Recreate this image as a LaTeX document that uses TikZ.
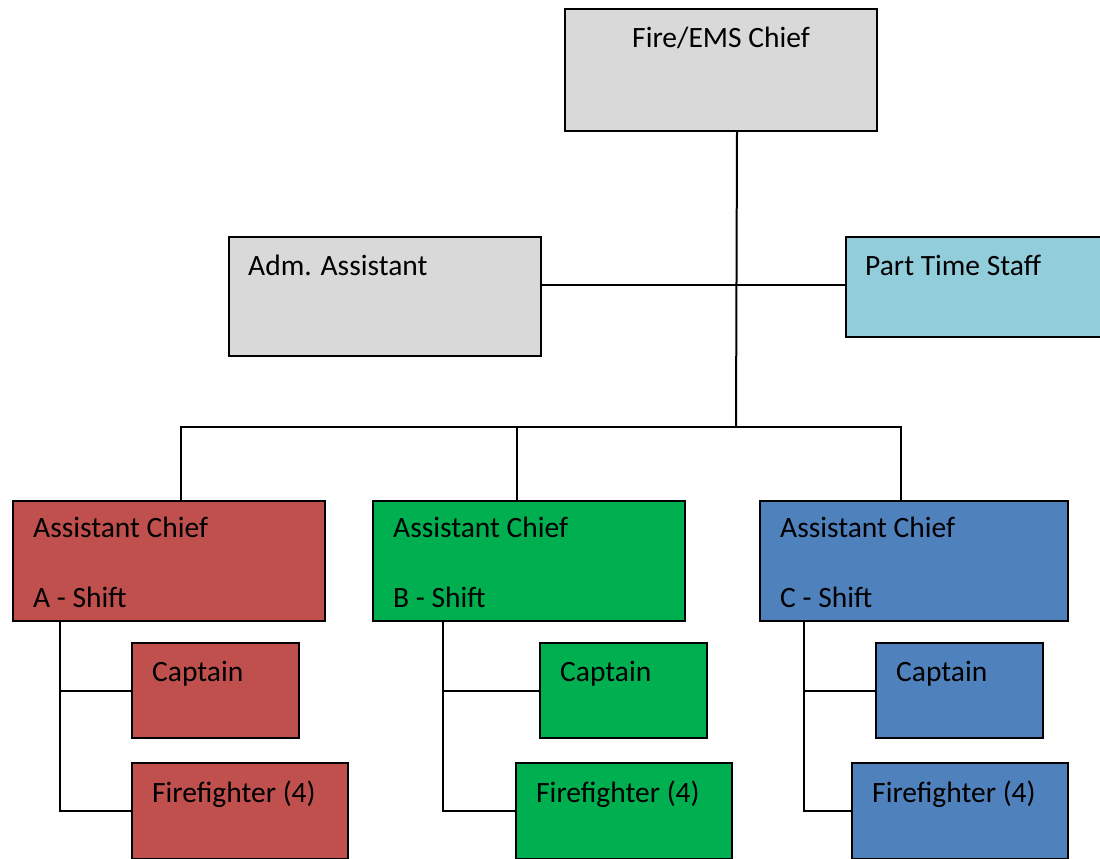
\documentclass[tikz,border=0pt]{standalone}
\usepackage{fontspec}
\setmainfont{Carlito}
\usetikzlibrary{positioning,calc}
\definecolor{chiefgray}{HTML}{D9D9D9}
\definecolor{partblue}{HTML}{92CDDC}
\definecolor{shiftred}{HTML}{C0504D}
\definecolor{shiftgreen}{HTML}{00B050}
\definecolor{shiftblue}{HTML}{4F81BD}
\begin{document}
\begin{tikzpicture}[x=1pt,y=-1pt]

    \tikzstyle{box}=[draw, line width=2pt, rectangle, anchor=north west, inner sep=0pt]
    \tikzstyle{txt}=[inner sep=0pt, anchor=base west, font=\fontsize{29.5}{35}\selectfont]
    \tikzstyle{wire}=[line width=2pt]

    \useasboundingbox (0,0) rectangle (1100,859);

    % top row
    \node (chief) at (564,8)[box, fill=chiefgray, minimum width=312pt, minimum height=122pt]{};
    \node (chiefTxt) [txt, anchor=base] at ([yshift=-40pt]chief.north){Fire/EMS Chief};

    \node (adm) at (228,236)[box, fill=chiefgray, minimum width=312pt, minimum height=119pt]{};
    \node (admTxt) [txt] at ([xshift=20pt,yshift=-39pt]adm.north west){Adm. Assistant};

    \node (partTime) at (845,236)[box, fill=partblue, minimum width=262pt, minimum height=100pt]{};
    \node (partTxt) [txt] at ([xshift=20pt,yshift=-39pt]partTime.north west){Part Time Staff};

    % shifts
    \node (shiftA) at (12,500)[box, fill=shiftred, minimum width=312pt, minimum height=120pt]{};
    \node (shiftATxt) [txt] at ([xshift=21pt,yshift=-37pt]shiftA.north west){Assistant Chief};
    \node (shiftAName) [txt] at ([xshift=21pt,yshift=15pt]shiftA.south west){A - Shift};

    \node (shiftB) at (372,500)[box, fill=shiftgreen, minimum width=312pt, minimum height=120pt]{};
    \node (shiftBTxt) [txt] at ([xshift=21pt,yshift=-37pt]shiftB.north west){Assistant Chief};
    \node (shiftBName) [txt] at ([xshift=21pt,yshift=15pt]shiftB.south west){B - Shift};

    \node (shiftC) at (759,500)[box, fill=shiftblue, minimum width=308pt, minimum height=120pt]{};
    \node (shiftCTxt) [txt] at ([xshift=21pt,yshift=-37pt]shiftC.north west){Assistant Chief};
    \node (shiftCName) [txt] at ([xshift=21pt,yshift=15pt]shiftC.south west){C - Shift};

    % captains and firefighters
    \node (capA) at (131,642)[box, fill=shiftred, minimum width=167pt, minimum height=95pt]{};
    \node (capATxt) [txt] at ([xshift=21pt,yshift=-39pt]capA.north west){Captain};
    \node (ffA) at (131,762)[box, fill=shiftred, minimum width=216pt, minimum height=96pt]{};
    \node (ffATxt) [txt] at ([xshift=21pt,yshift=-40pt]ffA.north west){Firefighter (4)};

    \node (capB) at (539,642)[box, fill=shiftgreen, minimum width=167pt, minimum height=95pt]{};
    \node (capBTxt) [txt] at ([xshift=21pt,yshift=-39pt]capB.north west){Captain};
    \node (ffB) at (515,762)[box, fill=shiftgreen, minimum width=216pt, minimum height=96pt]{};
    \node (ffBTxt) [txt] at ([xshift=21pt,yshift=-40pt]ffB.north west){Firefighter (4)};

    \node (capC) at (875,642)[box, fill=shiftblue, minimum width=167pt, minimum height=95pt]{};
    \node (capCTxt) [txt] at ([xshift=21pt,yshift=-39pt]capC.north west){Captain};
    \node (ffC) at (851,762)[box, fill=shiftblue, minimum width=216pt, minimum height=96pt]{};
    \node (ffCTxt) [txt] at ([xshift=21pt,yshift=-40pt]ffC.north west){Firefighter (4)};

    % connectors
    \coordinate (hub) at (736,427);
    \draw[wire] ([xshift=16pt]chief.south) -- (hub);
    \draw[wire] ([yshift=11.5pt]adm.east) -- ([yshift=11.5pt]adm.east -| partTime.west);
    \draw[wire] ([xshift=12pt]shiftA.north) |- ([xshift=-13pt]shiftC.north |- hub) -- ([xshift=-13pt]shiftC.north);
    \draw[wire] ([xshift=-12pt]shiftB.north) -- ([xshift=-12pt]shiftB.north |- hub);

    \coordinate (trunkA) at ([xshift=48pt]shiftA.south west);
    \coordinate (trunkB) at ([xshift=71pt]shiftB.south west);
    \coordinate (trunkC) at ([xshift=45pt]shiftC.south west);
    \draw[wire] (trunkA) |- (ffA.west);
    \draw[wire] (capA.west) -- (capA.west -| trunkA);
    \draw[wire] (trunkB) |- (ffB.west);
    \draw[wire] (capB.west) -- (capB.west -| trunkB);
    \draw[wire] (trunkC) |- (ffC.west);
    \draw[wire] (capC.west) -- (capC.west -| trunkC);

\end{tikzpicture}
\end{document}
